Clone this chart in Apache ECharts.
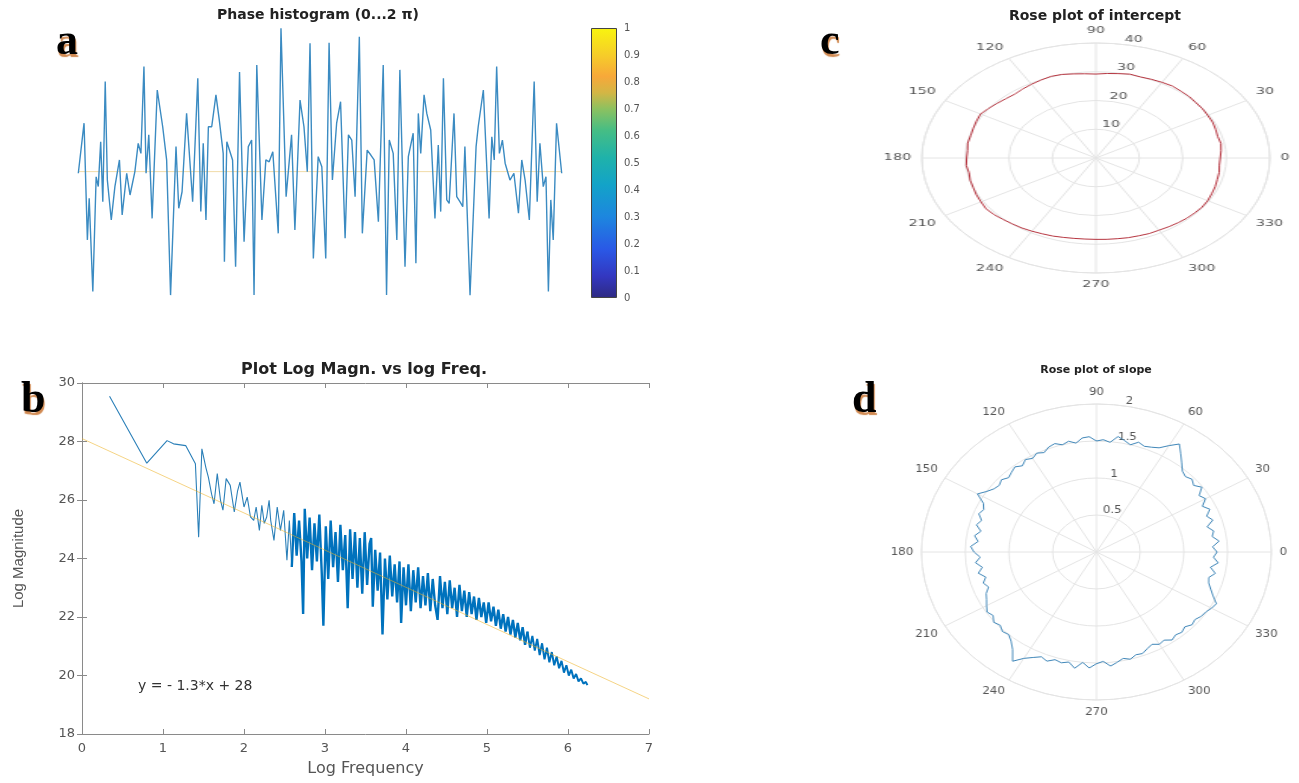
<!DOCTYPE html>
<html>
<head>
<meta charset="utf-8">
<script src="https://cdn.jsdelivr.net/npm/echarts@6/dist/echarts.min.js"></script>
<style>
  body { margin: 0; background: #fff; overflow: hidden; }
  #main { position: absolute; left: 0; top: 0; width: 1299px; height: 783px; }
  /* the rose plots are stretched sideways in the source figure */
  #roseC { position: absolute; left: 884px; top: 8px; width: 280px; height: 300px; transform: scaleX(1.513); transform-origin: 0 0; }
  #roseD { position: absolute; left: 886px; top: 372px; width: 356px; height: 360px; transform: scaleX(1.182); transform-origin: 0 0; }
</style>
</head>
<body>
<div id="main"></div>
<div id="roseC"></div>
<div id="roseD"></div>
<script>
// panel a: phase trace, [sample, height]
const phasePts = [
  [0.1,46.6],[2.0,65.0],[3.1,22.1],[3.7,37.4],[4.9,3.1],[6.0,45.3],[6.7,41.7],[7.5,58.2],[8.2,36.1],[9.0,80.3],
  [9.7,44.1],[11.0,29.4],[12.2,41.7],[13.7,51.5],[14.6,31.3],[16.1,46.6],[17.2,38.6],[18.8,47.2],[19.9,57.6],[20.8,53.9],
  [21.8,85.8],[22.5,46.6],[23.4,60.7],[24.5,30.0],[26.2,77.2],[28.0,63.7],[29.3,51.5],[30.6,1.8],[32.4,56.4],[33.3,33.7],
  [34.4,39.8],[35.9,68.6],[37.9,36.1],[39.6,81.5],[40.6,32.5],[41.4,57.6],[42.3,29.4],[43.1,63.7],[44.2,63.7],[45.6,75.4],
  [46.7,66.2],[48.0,53.9],[48.4,14.1],[49.2,58.2],[51.1,51.5],[52.1,12.2],[53.4,83.8],[54.9,21.4],[56.3,56.4],[57.4,58.8],
  [58.2,1.8],[59.1,86.4],[60.8,29.4],[62.1,51.5],[63.2,50.8],[64.4,54.5],[66.2,24.5],[67.1,99.9],[68.8,38.0],[70.6,60.7],
  [71.7,25.7],[73.4,73.5],[74.7,63.7],[75.8,47.2],[76.7,94.4],[77.8,15.3],[79.4,52.7],[80.6,49.0],[81.9,15.3],[83.0,94.6],
  [84.1,44.1],[85.5,65.0],[86.8,72.9],[88.3,22.7],[89.4,60.7],[90.5,58.8],[91.6,38.0],[93.0,96.8],[94.0,24.5],[95.6,55.1],
  [96.8,53.3],[97.9,51.5],[99.3,28.8],[100.9,86.4],[102.0,1.8],[102.9,58.8],[104.2,53.9],[105.4,22.1],[106.4,84.6],[108.1,12.2],
  [109.2,52.7],[110.8,61.3],[111.7,13.5],[112.5,68.6],[113.3,53.9],[114.4,75.4],[115.3,68.6],[116.6,62.5],[118.0,30.0],[119.1,57.0],
  [119.9,32.5],[120.8,81.5],[121.9,36.8],[122.7,35.5],[124.3,68.6],[125.2,38.0],[126.3,36.1],[127.2,34.3],[127.9,56.4],[129.6,1.8],
  [131.6,56.4],[132.3,63.7],[134.0,77.2],[135.9,30.0],[136.8,60.0],[137.6,51.5],[138.4,85.8],[139.3,53.9],[140.3,58.8],[141.2,50.3],
  [142.8,44.1],[144.1,46.6],[145.6,31.9],[146.7,51.5],[147.8,44.1],[149.2,29.4],[150.8,80.3],[151.8,36.1],[152.7,57.6],[153.8,41.7],
  [154.7,45.3],[155.5,3.1],[156.3,36.8],[157.1,22.1],[158.2,65.0],[159.9,46.6]
];
const phaseMean = [[0,47.2],[160,47.2]];

// panel b: log magnitude vs log frequency, [logFreq, logMag]
const magLow = [
  [0.34,29.55],[0.80,27.26],[1.05,28.03],[1.13,27.92],[1.28,27.86],[1.40,27.24],[1.44,24.73],[1.48,27.75],[1.53,27.1],[1.56,26.78],
  [1.60,26.2],[1.63,25.87],[1.67,26.90],[1.71,25.99],[1.74,25.65],[1.78,26.73],[1.83,26.50],[1.88,25.59],[1.92,26.3],[1.95,26.61],
  [2.00,25.76],[2.04,26.10],[2.08,25.42],[2.12,25.30],[2.15,25.76],[2.19,24.96],[2.22,25.82],[2.25,25.2],[2.28,25.42],[2.31,25.99],
  [2.33,25.30],[2.37,24.62],[2.41,25.76],[2.45,24.96],[2.49,25.65],[2.53,23.94],[2.56,25.30],[2.59,23.71]
];
const magMid = [
  [2.62,25.55],[2.65,24.1],[2.68,25.3],[2.71,23.9],[2.73,22.1],[2.75,25.7],[2.78,24.0],[2.81,25.4],[2.84,23.6],[2.87,25.2],
  [2.90,23.9],[2.93,25.5],[2.96,23.5],[2.98,21.7],[3.01,25.1],[3.04,23.3],[3.07,25.3],[3.10,23.7],[3.13,24.9],[3.16,23.2],
  [3.19,25.15],[3.22,23.6],[3.25,24.8],[3.28,22.3],[3.31,25.0],[3.34,23.3],[3.37,24.9],[3.40,23.0],[3.43,24.7],[3.46,22.8],
  [3.49,24.9],[3.52,23.1],[3.55,24.5],[3.57,24.7],[3.59,22.35],[3.62,24.3],[3.65,22.9],[3.68,24.2],[3.71,21.4],[3.74,24.0],
  [3.77,22.6],[3.80,24.1],[3.83,22.7],[3.86,23.8],[3.89,22.5],[3.92,23.9],[3.94,21.8],[3.97,23.7],[4.00,22.4]
];
const magHigh = [
  [4.03,23.8],[4.06,22.2],[4.09,23.6],[4.12,22.5],[4.15,23.7],[4.18,22.3],[4.21,23.4],[4.24,22.4],[4.27,23.5],[4.30,22.2],
  [4.33,23.3],[4.36,22.4],[4.39,21.9],[4.42,23.4],[4.45,22.3],[4.48,23.2],[4.51,22.1],[4.54,23.25],[4.57,22.3],[4.60,23.0],
  [4.63,22.0],[4.66,23.1],[4.69,22.2],[4.72,22.9],[4.75,22.0],[4.78,22.85],[4.81,22.1],[4.84,22.7],[4.87,21.9],[4.90,22.65],
  [4.93,22.0],[4.96,22.5],[4.99,21.8],[5.02,22.5],[5.05,21.85],[5.08,22.35],[5.11,21.7],[5.14,22.25],[5.17,21.6],[5.20,22.1],
  [5.23,21.5],[5.26,22.0],[5.29,21.4],[5.32,21.9],[5.35,21.3],[5.38,21.8],[5.41,21.2],[5.44,21.65],[5.47,21.05],[5.50,21.5]
];
const magTail = [
  [5.53,20.95],[5.56,21.35],[5.59,20.85],[5.62,21.25],[5.65,20.7],[5.68,21.1],[5.71,20.55],[5.74,20.95],[5.77,20.45],[5.80,20.8],
  [5.83,20.35],[5.86,20.65],[5.89,20.25],[5.92,20.5],[5.95,20.1],[5.98,20.35],[6.01,20.0],[6.04,20.2],[6.07,19.9],[6.10,20.05],
  [6.13,19.8],[6.16,19.9],[6.19,19.72],[6.22,19.78],[6.24,19.67]
];
const fitLine = [[0,28.1],[7,19.2]];

// panel c: rose plot of intercept
const interceptAngles = [0,5,10,15,20,25,30,35,40,45,50,55,60,65,70,75,80,85,90,95,100,105,110,115,120,125,130,135,140,145,
  150,155,160,165,170,175,180,185,190,195,200,205,210,215,220,225,230,235,240,245,250,255,260,265,270,275,280,285,290,295,
  300,305,310,315,320,325,330,335,340,345,350,355,360];
const interceptR = [28.6,28.9,29.2,29.0,29.3,29.6,29.7,29.9,30.0,30.3,30.4,30.6,30.4,30.2,30.0,30.2,29.8,29.5,29.2,29.4,
  29.7,30.1,30.2,29.9,29.6,29.3,29.0,29.2,29.6,30.1,30.6,30.3,30.0,29.8,29.9,29.6,29.7,29.9,29.6,29.9,
  30.0,30.3,30.5,30.8,30.6,30.2,29.9,29.7,29.4,29.1,28.9,28.6,28.4,28.3,28.3,28.4,28.5,28.7,28.8,29.0,
  29.0,29.2,29.4,29.6,29.7,29.8,29.7,29.4,29.2,28.9,28.8,28.5,28.6];

// panel d: rose plot of slope
const slopeAngles = [0,3,6,9,12,15,18,21,24,27,30,33,36,39,42,45,48,51,54,57,60,63,66,69,72,75,78,81,84,87,
  90,93,96,99,102,105,108,111,114,117,120,123,126,129,132,135,138,141,144,147,150,153,156,159,162,165,168,171,174,177,
  180,183,186,189,192,195,198,201,204,207,210,213,216,219,222,225,228,231,234,237,240,243,246,249,252,255,258,261,264,267,
  270,273,276,279,282,285,288,291,294,297,300,303,306,309,312,315,318,321,324,327,330,333,336,339,342,345,348,351,354,357,360];
const slopeR = [1.38,1.33,1.41,1.34,1.37,1.31,1.40,1.35,1.42,1.36,1.44,1.40,1.49,1.43,1.47,1.44,1.47,1.55,1.64,1.74,
  1.66,1.58,1.55,1.53,1.56,1.50,1.54,1.58,1.49,1.52,1.50,1.56,1.55,1.49,1.53,1.50,1.54,1.52,1.47,1.50,
  1.46,1.49,1.44,1.48,1.45,1.42,1.46,1.43,1.45,1.50,1.57,1.45,1.41,1.44,1.38,1.42,1.35,1.41,1.36,1.44,
  1.40,1.33,1.39,1.32,1.38,1.31,1.36,1.32,1.38,1.41,1.45,1.49,1.46,1.51,1.48,1.52,1.50,1.55,1.63,1.76,
  1.66,1.60,1.55,1.58,1.53,1.55,1.52,1.59,1.50,1.57,1.51,1.48,1.55,1.51,1.47,1.50,1.46,1.47,1.43,1.40,
  1.44,1.42,1.47,1.44,1.46,1.43,1.47,1.45,1.48,1.49,1.52,1.54,1.46,1.40,1.35,1.33,1.39,1.32,1.40,1.34,1.38];

const FONT = '"DejaVu Sans", sans-serif';
const LABEL = '#555';

const main = echarts.init(document.getElementById('main'));
const letterStyle = {
  font: 'bold 44px "Liberation Serif", serif', fill: '#000', textVerticalAlign: 'alphabetic',
  textShadowColor: '#d18a52', textShadowOffsetX: 1, textShadowOffsetY: 3, textShadowBlur: 1
};
function titleText(x, y, text, size) {
  return { type: 'text', x: x, y: y, style: { text: text, font: 'bold ' + size + 'px ' + FONT, fill: '#222',
    textAlign: 'center', textVerticalAlign: 'middle' } };
}
main.setOption({
  animation: false,
  graphic: [
    { type: 'text', x: 56, y: 21, style: Object.assign({ text: 'a' }, letterStyle) },
    { type: 'text', x: 21, y: 379, style: Object.assign({ text: 'b' }, letterStyle) },
    { type: 'text', x: 820, y: 21, style: Object.assign({ text: 'c' }, letterStyle) },
    { type: 'text', x: 852, y: 379, style: Object.assign({ text: 'd' }, letterStyle) },
    titleText(318, 15, 'Phase histogram (0...2 π)', 14),
    titleText(364, 370, 'Plot Log Magn. vs log Freq.', 16),
    titleText(1095, 16, 'Rose plot of intercept', 14),
    titleText(1096, 370, 'Rose plot of slope', 11),
    { type: 'text', x: 138, y: 686, style: { text: 'y = - 1.3*x + 28', font: '14px ' + FONT, fill: '#333', textVerticalAlign: 'middle' } }
  ],
  grid: [
    { left: 78, top: 28, width: 484, height: 272 },
    { left: 591, top: 28, width: 26, height: 270 },
    { left: 82, top: 383, width: 567, height: 351 }
  ],
  xAxis: [
    { gridIndex: 0, type: 'value', min: 0, max: 160, show: false },
    { gridIndex: 1, type: 'category', data: ['c'], show: false },
    { gridIndex: 2, type: 'value', min: 0, max: 7, interval: 1, position: 'bottom',
      name: 'Log Frequency', nameLocation: 'middle', nameGap: 27,
      nameTextStyle: { fontFamily: FONT, fontSize: 16, color: LABEL },
      axisLine: { lineStyle: { color: '#8a8a8a' } },
      axisTick: { inside: true, length: 5, lineStyle: { color: '#8a8a8a' } },
      axisLabel: { fontFamily: FONT, fontSize: 13, color: LABEL, margin: 8 },
      splitLine: { show: false } },
    { gridIndex: 2, type: 'value', min: 0, max: 7, interval: 1, position: 'top',
      axisLine: { lineStyle: { color: '#8a8a8a' } },
      axisTick: { inside: true, length: 5, lineStyle: { color: '#8a8a8a' } },
      axisLabel: { show: false }, splitLine: { show: false } }
  ],
  yAxis: [
    { gridIndex: 0, type: 'value', min: 0, max: 100, show: false },
    { gridIndex: 1, type: 'value', min: 0, max: 1, interval: 0.1, position: 'right',
      axisLine: { show: false },
      axisTick: { inside: true, length: 3, lineStyle: { color: '#666' } },
      axisLabel: { fontFamily: FONT, fontSize: 10, color: LABEL, margin: 7,
        formatter: v => String(+v.toFixed(1)) },
      splitLine: { show: false } },
    { gridIndex: 2, type: 'value', min: 18, max: 30, interval: 2, position: 'left',
      name: 'Log Magnitude', nameLocation: 'middle', nameGap: 56,
      nameTextStyle: { fontFamily: '"Liberation Sans", sans-serif', fontSize: 15, color: LABEL },
      axisLine: { show: true, lineStyle: { color: '#8a8a8a' } },
      axisTick: { show: true, inside: true, length: 5, lineStyle: { color: '#8a8a8a' } },
      axisLabel: { fontFamily: FONT, fontSize: 13, color: LABEL, margin: 7 },
      splitLine: { show: false } },
    { gridIndex: 2, type: 'value', min: 18, max: 30, interval: 2, position: 'right',
      axisLine: { show: true, lineStyle: { color: '#8a8a8a' } },
      axisTick: { show: true, inside: true, length: 5, lineStyle: { color: '#8a8a8a' } },
      axisLabel: { show: false }, splitLine: { show: false } }
  ],
  series: [
    { type: 'line', xAxisIndex: 0, yAxisIndex: 0, data: phaseMean, symbol: 'none',
      lineStyle: { color: '#f1dca8', width: 1 }, silent: true },
    { type: 'line', xAxisIndex: 0, yAxisIndex: 0, data: phasePts, symbol: 'none',
      lineStyle: { color: '#3b8bc2', width: 1.4 } },
    { type: 'bar', xAxisIndex: 1, yAxisIndex: 1, data: [1], barWidth: '100%',
      itemStyle: {
        borderColor: '#444', borderWidth: 1,
        color: new echarts.graphic.LinearGradient(0, 1, 0, 0, [
          { offset: 0, color: '#2e2a82' }, { offset: 0.08, color: '#3337c0' },
          { offset: 0.18, color: '#2a58e6' }, { offset: 0.3, color: '#1d86df' },
          { offset: 0.42, color: '#13a3c8' }, { offset: 0.52, color: '#1fb2aa' },
          { offset: 0.62, color: '#45bd85' }, { offset: 0.7, color: '#8cc160' },
          { offset: 0.76, color: '#d3b645' }, { offset: 0.82, color: '#f7a83a' },
          { offset: 0.9, color: '#f6cd29' }, { offset: 1, color: '#f8f40f' }
        ])
      } },
    { type: 'line', xAxisIndex: 2, yAxisIndex: 2, symbol: 'none', data: magLow,
      lineStyle: { color: '#2a7fb8', width: 1.1 } },
    { type: 'line', xAxisIndex: 2, yAxisIndex: 2, symbol: 'none',
      data: magLow.slice(-1).concat(magMid, magHigh),
      lineStyle: { color: '#0072BD', width: 2.4 } },
    { type: 'line', xAxisIndex: 2, yAxisIndex: 2, symbol: 'none',
      data: magHigh.slice(-1).concat(magTail),
      lineStyle: { color: '#0072BD', width: 2 } },
    { type: 'line', xAxisIndex: 2, yAxisIndex: 2, symbol: 'none', data: fitLine,
      lineStyle: { color: '#EDB120', width: 1, opacity: 0.55 } }
  ]
});

function zip(angles, radii) {
  return radii.map((r, i) => [r, angles[i]]);
}

function roseOption(cx, cy, R, rMax, rStep, data, color, fontSize) {
  const grey = '#e4e4e4';
  return {
    animation: false,
    polar: [
      { center: [cx, cy], radius: R },
      { center: [cx, cy], radius: R }
    ],
    angleAxis: [
      { polarIndex: 0, type: 'value', min: 0, max: 360, interval: 30, startAngle: 0, clockwise: false,
        axisLine: { lineStyle: { color: grey } },
        axisTick: { show: false },
        axisLabel: { margin: 7, color: LABEL, fontFamily: FONT, fontSize: fontSize,
          formatter: v => (v === 360 ? '' : String(v)) },
        splitLine: { lineStyle: { color: grey } } },
      { polarIndex: 1, type: 'value', min: 0, max: 360, startAngle: 80, show: false }
    ],
    radiusAxis: [
      { polarIndex: 0, min: 0, max: rMax, interval: rStep,
        axisLine: { show: false }, axisTick: { show: false }, axisLabel: { show: false },
        splitLine: { lineStyle: { color: grey } } },
      { polarIndex: 1, min: 0, max: rMax, interval: rStep,
        axisLine: { show: false }, axisTick: { show: false }, splitLine: { show: false },
        axisLabel: { margin: 1, align: 'left', verticalAlign: 'bottom', color: LABEL,
          fontFamily: FONT, fontSize: fontSize, formatter: v => (v === 0 ? '' : String(v)) } }
    ],
    series: [
      { type: 'line', coordinateSystem: 'polar', polarIndex: 0, data: data, symbol: 'none',
        lineStyle: { color: color, width: 1 } }
    ]
  };
}

const roseC = echarts.init(document.getElementById('roseC'));
roseC.setOption(roseOption(140, 150, 115, 40, 10, zip(interceptAngles, interceptR), '#b5343f', 9.5));

const roseD = echarts.init(document.getElementById('roseD'));
roseD.setOption(roseOption(178, 180, 148, 2, 0.5, zip(slopeAngles, slopeR), '#3f86b8', 10));
</script>
</body>
</html>
